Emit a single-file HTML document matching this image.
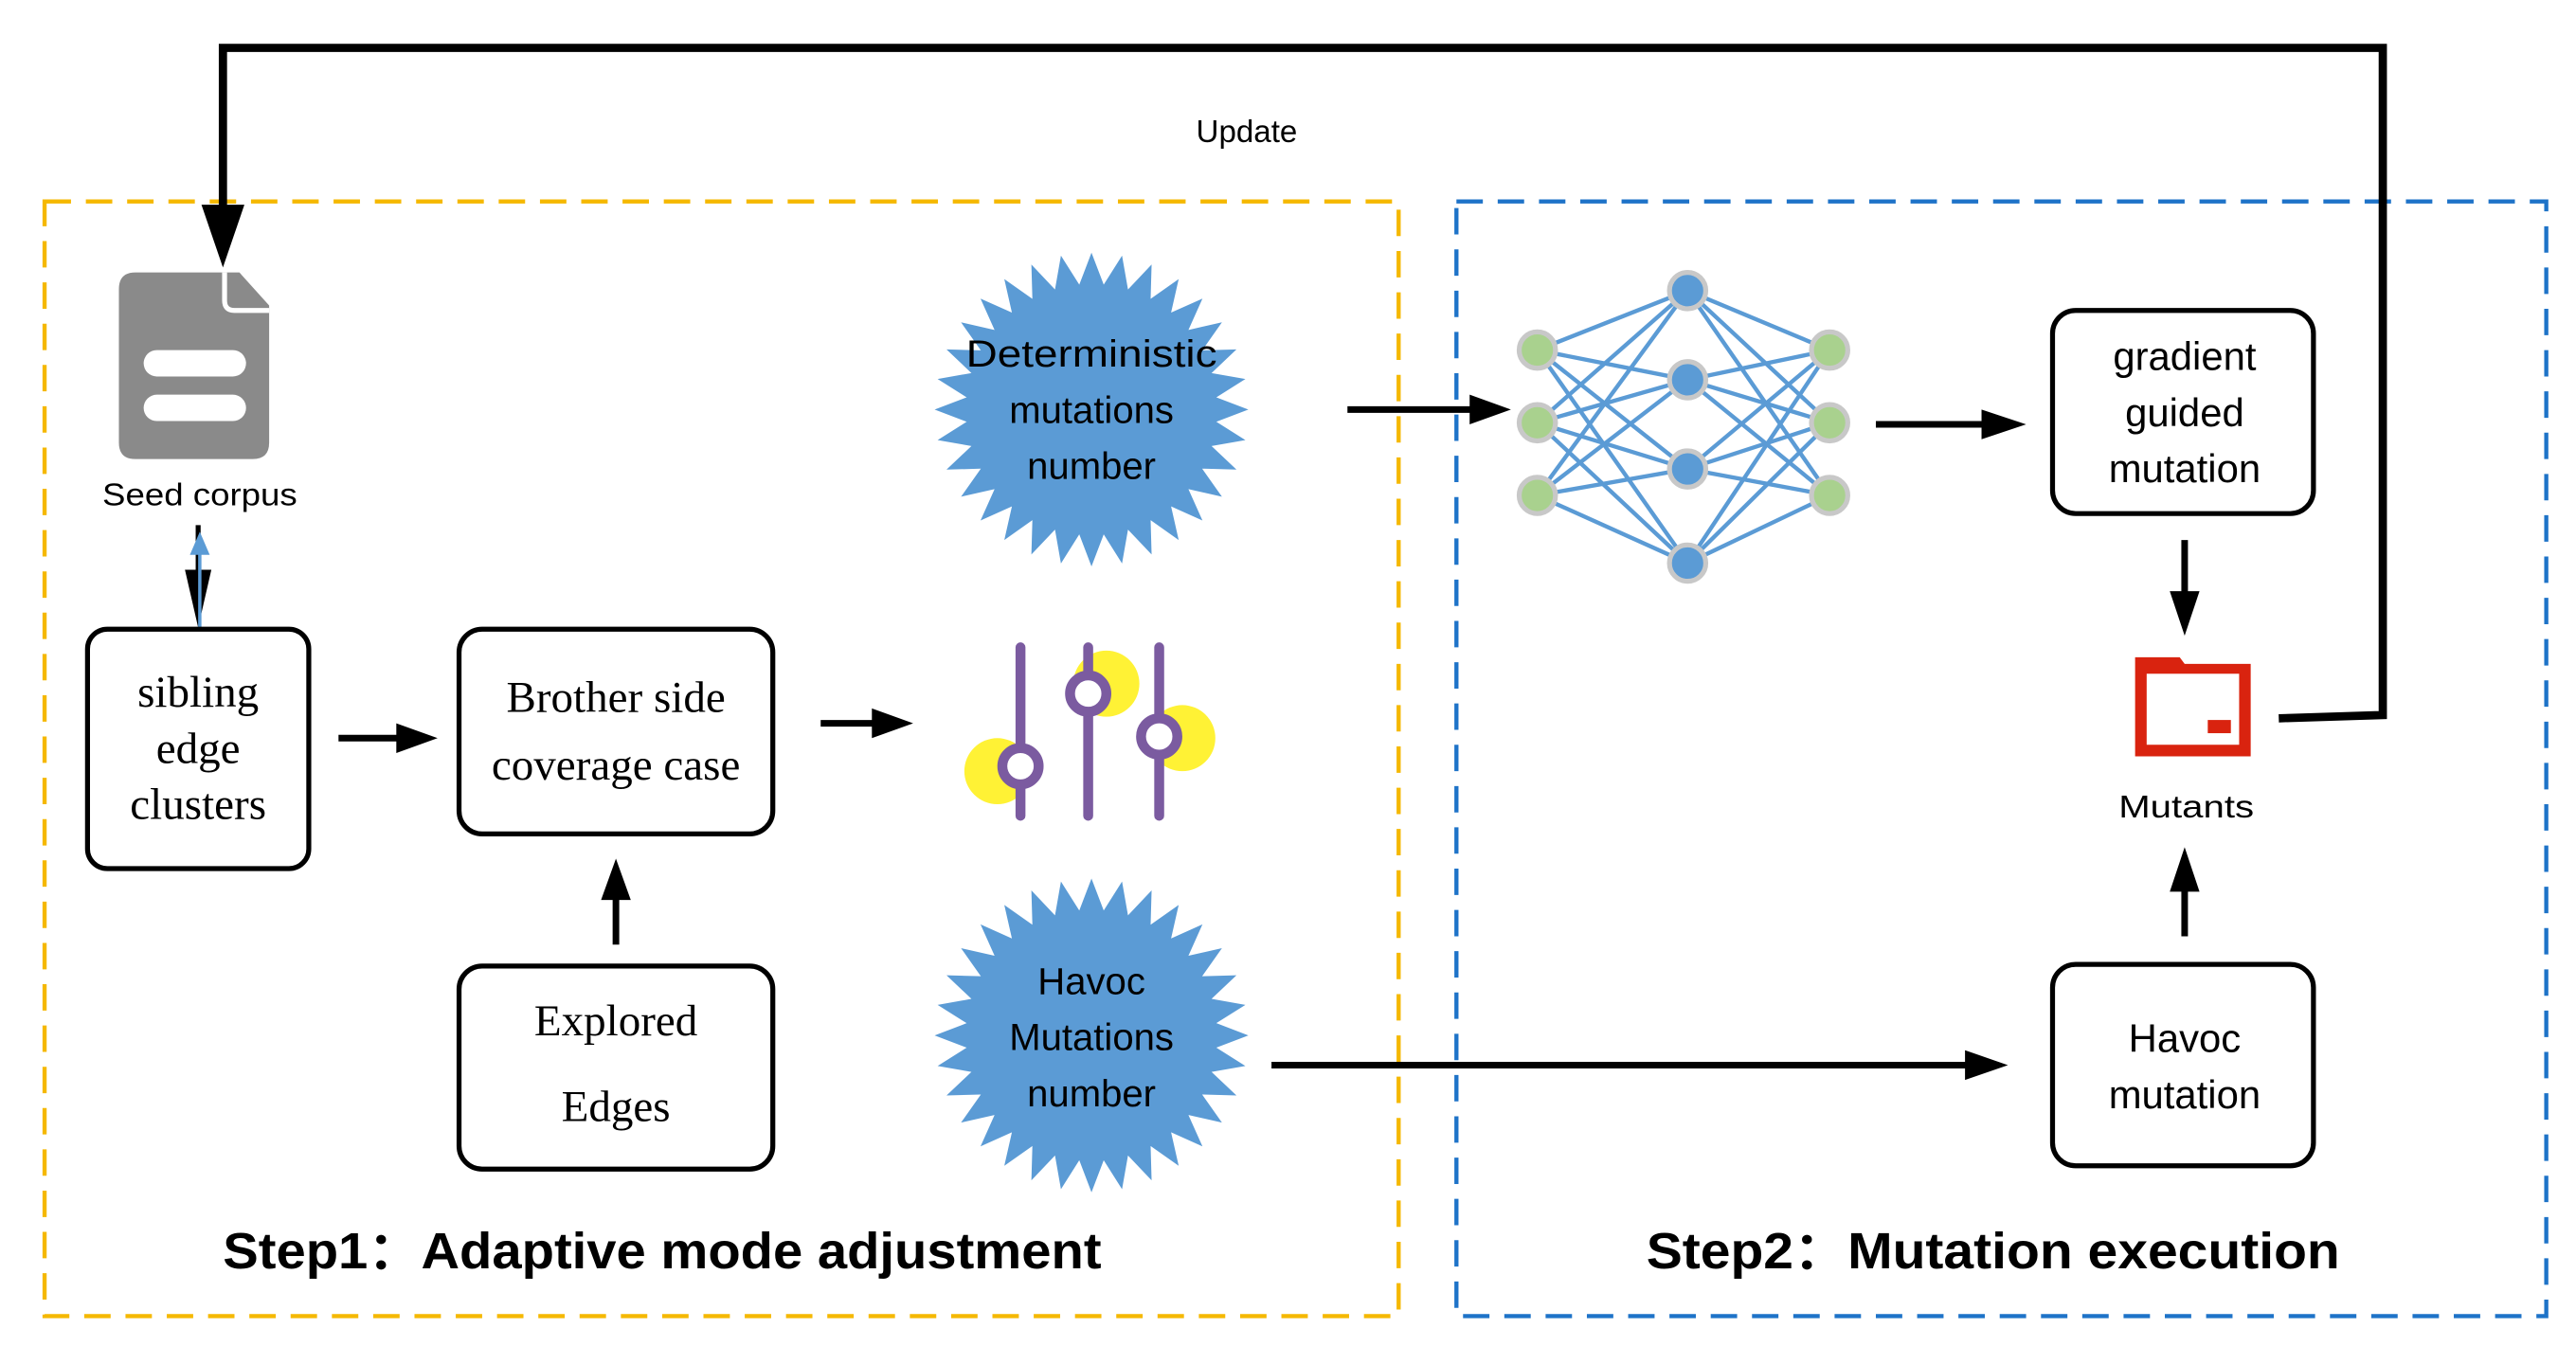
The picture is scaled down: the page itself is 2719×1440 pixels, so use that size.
<!DOCTYPE html>
<html><head><meta charset="utf-8"><style>html,body{margin:0;padding:0;background:#fff}svg{display:block}</style></head>
<body>
<svg id="s" width="2719" height="1440" viewBox="0 0 1560 826" preserveAspectRatio="none" xmlns="http://www.w3.org/2000/svg">
<rect width="1560" height="826" fill="#fff"/>
<!-- dashed boxes -->
<rect x="27" y="122" width="820" height="675" fill="none" stroke="#F5B800" stroke-width="2.5" stroke-dasharray="16,9"/>
<rect x="882" y="122" width="660" height="675" fill="none" stroke="#1E73C8" stroke-width="2.5" stroke-dasharray="16,9"/>
<!-- update loop -->
<polyline points="1380,435 1443,433 1443,29 135,29 135,140" fill="none" stroke="#000" stroke-width="5"/>
<path d="M122,124 L148,124 L135,162 Z" fill="#000"/>
<text x="755" y="86" font-family="Liberation Sans, sans-serif" font-size="19" text-anchor="middle">Update</text>
<!-- doc icon -->
<path d="M82,165 L145,165 L163,185 L163,268 Q163,278 153,278 L82,278 Q72,278 72,268 L72,175 Q72,165 82,165 Z" fill="#8a8a8a"/>
<path d="M136,165 L136,182 Q136,188 142,188 L163,188" fill="none" stroke="#fff" stroke-width="3"/>
<rect x="87" y="212" width="62" height="16" rx="8" fill="#fff"/>
<rect x="87" y="239" width="62" height="16" rx="8" fill="#fff"/>
<text x="121" y="306" font-family="Liberation Sans, sans-serif" font-size="19" text-anchor="middle" textLength="118" lengthAdjust="spacingAndGlyphs">Seed corpus</text>
<line x1="120" y1="318" x2="120" y2="372" stroke="#000" stroke-width="3"/>
<path d="M112,345 L128,345 L120,380 Z" fill="#000"/>
<line x1="121" y1="380" x2="121" y2="330" stroke="#5B9BD5" stroke-width="2"/>
<path d="M115,336 L127,336 L121,322 Z" fill="#5B9BD5"/>
<!-- boxes -->
<g fill="#fff" stroke="#000" stroke-width="3">
<rect x="53" y="381" width="134" height="145" rx="12"/>
<rect x="278" y="381" width="190" height="124" rx="14"/>
<rect x="278" y="585" width="190" height="123" rx="14"/>
<rect x="1243" y="188" width="158" height="123" rx="14"/>
<rect x="1243" y="584" width="158" height="122" rx="14"/>
</g>
<g font-family="Liberation Serif, serif" font-size="27" text-anchor="middle">
<text x="120" y="428">sibling</text><text x="120" y="462">edge</text><text x="120" y="496">clusters</text>
<text x="373" y="431">Brother side</text><text x="373" y="472">coverage case</text>
<text x="373" y="627">Explored</text><text x="373" y="679">Edges</text>
</g>
<g font-family="Liberation Sans, sans-serif" font-size="24" text-anchor="middle">
<text x="1323" y="224">gradient</text><text x="1323" y="258">guided</text><text x="1323" y="292">mutation</text>
<text x="1323" y="637">Havoc</text><text x="1323" y="671">mutation</text>
</g>
<!-- arrows -->
<g stroke="#000" stroke-width="4" fill="none">
<line x1="205" y1="447" x2="245" y2="447"/>
<line x1="497" y1="438" x2="535" y2="438"/>
<line x1="373" y1="572" x2="373" y2="540"/>
<line x1="816" y1="248" x2="895" y2="248"/>
<line x1="1136" y1="257" x2="1207" y2="257"/>
<line x1="1323" y1="327" x2="1323" y2="365"/>
<line x1="1323" y1="567" x2="1323" y2="535"/>
<line x1="770" y1="645" x2="1195" y2="645"/>
</g>
<g fill="#000">
<path d="M240,438 L265,447 L240,456 Z"/>
<path d="M528,429 L553,438 L528,447 Z"/>
<path d="M364,545 L373,520 L382,545 Z"/>
<path d="M890,239 L915,248 L890,257 Z"/>
<path d="M1200,248 L1227,257 L1200,266 Z"/>
<path d="M1314,358 L1323,385 L1332,358 Z"/>
<path d="M1314,540 L1323,513 L1332,540 Z"/>
<path d="M1190,636 L1216,645 L1190,654 Z"/>
</g>
<!-- starbursts -->
<polygon id="st1" fill="#5B9BD5"/>
<polygon id="st2" fill="#5B9BD5"/>
<g font-family="Liberation Sans, sans-serif" font-size="23" text-anchor="middle">
<text x="661" y="222" textLength="152" lengthAdjust="spacingAndGlyphs">Deterministic</text><text x="661" y="256">mutations</text><text x="661" y="290">number</text>
<text x="661" y="602">Havoc</text><text x="661" y="636">Mutations</text><text x="661" y="670">number</text>
</g>
<!-- sliders -->
<circle cx="604" cy="467" r="20" fill="#FFF235"/>
<circle cx="670" cy="414" r="20" fill="#FFF235"/>
<circle cx="716" cy="447" r="20" fill="#FFF235"/>
<g stroke="#7B5BA0" stroke-width="6" stroke-linecap="round" fill="none">
<line x1="618" y1="392" x2="618" y2="494"/>
<line x1="659" y1="392" x2="659" y2="494"/>
<line x1="702" y1="392" x2="702" y2="494"/>
<circle cx="618" cy="464" r="11" fill="#fff"/>
<circle cx="659" cy="420" r="11" fill="#fff"/>
<circle cx="702" cy="446" r="11" fill="#fff"/>
</g>
<!-- neural net -->
<g id="nn" stroke="#5B9BD5" stroke-width="2.5"></g>
<g id="nodes"></g>
<!-- folder -->
<path d="M1293,398 L1320,398 L1323,402 L1363,402 L1363,458 L1293,458 Z" fill="#D9230F"/>
<rect x="1300" y="408" width="56" height="43" fill="#fff"/>
<rect x="1337" y="436" width="14" height="8" fill="#D9230F"/>
<text x="1324" y="495" font-family="Liberation Sans, sans-serif" font-size="19" text-anchor="middle" textLength="82" lengthAdjust="spacingAndGlyphs">Mutants</text>
<!-- steps -->
<g font-family="Liberation Sans, sans-serif" font-size="31" font-weight="bold">
<text x="135" y="768" textLength="532" lengthAdjust="spacingAndGlyphs">Step1：Adaptive mode adjustment</text>
<text x="997" y="768" textLength="420" lengthAdjust="spacingAndGlyphs">Step2：Mutation execution</text>
</g>
<script>
function star(id,cx,cy,R,r,n){var p=[];for(var i=0;i<2*n;i++){var a=Math.PI*i/n-Math.PI/2;var rr=i%2?r:R;p.push((cx+rr*Math.cos(a)).toFixed(1)+','+(cy+rr*Math.sin(a)).toFixed(1));}document.getElementById(id).setAttribute('points',p.join(' '));}
star('st1',661,248,95,76,32);star('st2',661,627,95,76,32);
var L=[[931,212],[931,256],[931,300]],M=[[1022,176],[1022,230],[1022,284],[1022,341]],R=[[1108,212],[1108,256],[1108,300]];
var g=document.getElementById('nn'),ns='http://www.w3.org/2000/svg';
function ln(a,b){var e=document.createElementNS(ns,'line');e.setAttribute('x1',a[0]);e.setAttribute('y1',a[1]);e.setAttribute('x2',b[0]);e.setAttribute('y2',b[1]);g.appendChild(e);}
L.forEach(function(a){M.forEach(function(b){ln(a,b)})});M.forEach(function(a){R.forEach(function(b){ln(a,b)})});
var nd=document.getElementById('nodes');
function c(p,f){var e=document.createElementNS(ns,'circle');e.setAttribute('cx',p[0]);e.setAttribute('cy',p[1]);e.setAttribute('r',11);e.setAttribute('fill',f);e.setAttribute('stroke','#c8c8c8');e.setAttribute('stroke-width','3');nd.appendChild(e);}
L.forEach(function(p){c(p,'#A9D18E')});R.forEach(function(p){c(p,'#A9D18E')});M.forEach(function(p){c(p,'#5B9BD5')});
</script>
</svg>
</body></html>
